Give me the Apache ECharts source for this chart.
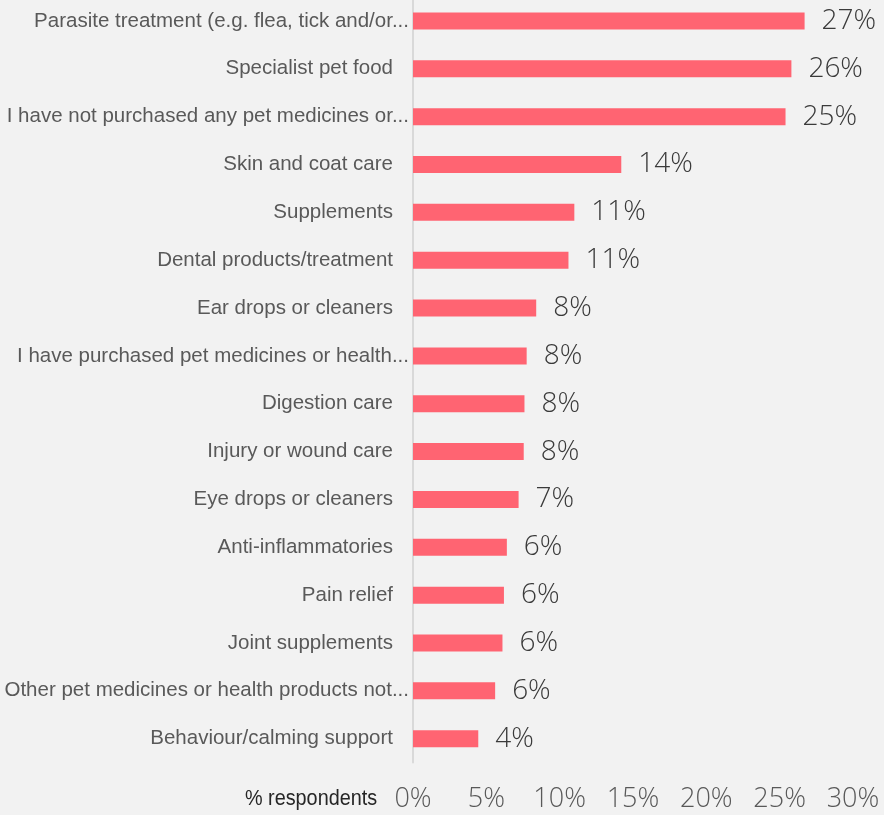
<!DOCTYPE html>
<html>
<head>
<meta charset="utf-8">
<script src="https://cdn.jsdelivr.net/npm/echarts@6/dist/echarts.min.js"></script>
<style>
  html, body { margin: 0; padding: 0; background: #F2F2F2; overflow: hidden; }
  /* the plot starts a few pixels above the page edge */
  #chart { position: absolute; left: 0; top: -3px; width: 884px; height: 818px; }
</style>
</head>
<body>
<div id="chart"></div>
<script>
// Pet health purchases, share of respondents (%)
const categories = [
  'Parasite treatment (e.g. flea, tick and/or...',
  'Specialist pet food',
  'I have not purchased any pet medicines or...',
  'Skin and coat care',
  'Supplements',
  'Dental products/treatment',
  'Ear drops or cleaners',
  'I have purchased pet medicines or health...',
  'Digestion care',
  'Injury or wound care',
  'Eye drops or cleaners',
  'Anti-inflammatories',
  'Pain relief',
  'Joint supplements',
  'Other pet medicines or health products not...',
  'Behaviour/calming support'
];
const values = [26.7, 25.8, 25.4, 14.2, 11.0, 10.6, 8.4, 7.75, 7.6, 7.55, 7.2, 6.4, 6.2, 6.1, 5.6, 4.45];
const axisTicks = [0, 5, 10, 15, 20, 25, 30];
const axisTitle = '% respondents';

const chart = echarts.init(document.getElementById('chart'), null, { renderer: 'canvas' });

const catFont = { fontFamily: 'Liberation Sans', fontSize: 20.5, color: '#595959' };

chart.setOption({
  backgroundColor: '#F2F2F2',
  animation: false,
  grid: { left: 413, top: 0, width: 440, height: 765.6, containLabel: false },
  xAxis: {
    type: 'value',
    min: axisTicks[0],
    max: axisTicks[axisTicks.length - 1],
    interval: axisTicks[1] - axisTicks[0],
    axisLine: { show: false },
    axisTick: { show: false },
    splitLine: { show: false },
    axisLabel: {
      formatter: '{value}%',
      margin: 23,
      fontFamily: 'Open Sans',
      fontWeight: 300,
      fontSize: 27,
      color: '#595959'
    }
  },
  yAxis: {
    type: 'category',
    inverse: true,
    data: categories,
    axisLine: { show: true, lineStyle: { color: '#D9D9D9', width: 2 } },
    axisTick: { show: false },
    axisLabel: Object.assign({
      margin: 4,
      formatter: function (v) {
        // labels that were cut short keep their ellipsis close to the axis
        return v.endsWith('...') ? '{t|' + v + '}' : '{f|' + v + '}';
      },
      rich: {
        t: Object.assign({}, catFont),
        f: Object.assign({ padding: [0, 16, 0, 0] }, catFont)
      }
    }, catFont)
  },
  series: [{
    type: 'bar',
    data: values,
    barWidth: 17,
    itemStyle: { color: '#FF6472' },
    label: {
      show: true,
      position: 'right',
      distance: 17,
      formatter: function (p) { return Math.round(p.value) + '%'; },
      fontFamily: 'Open Sans',
      fontWeight: 300,
      fontSize: 28,
      color: '#3A3A3A'
    }
  }],
  graphic: [{
    type: 'text',
    x: 245,
    y: 791,
    scaleX: 0.9,
    style: {
      text: axisTitle,
      fontFamily: 'Liberation Sans',
      fontSize: 22,
      fill: '#262626'
    }
  }]
});
</script>
</body>
</html>
